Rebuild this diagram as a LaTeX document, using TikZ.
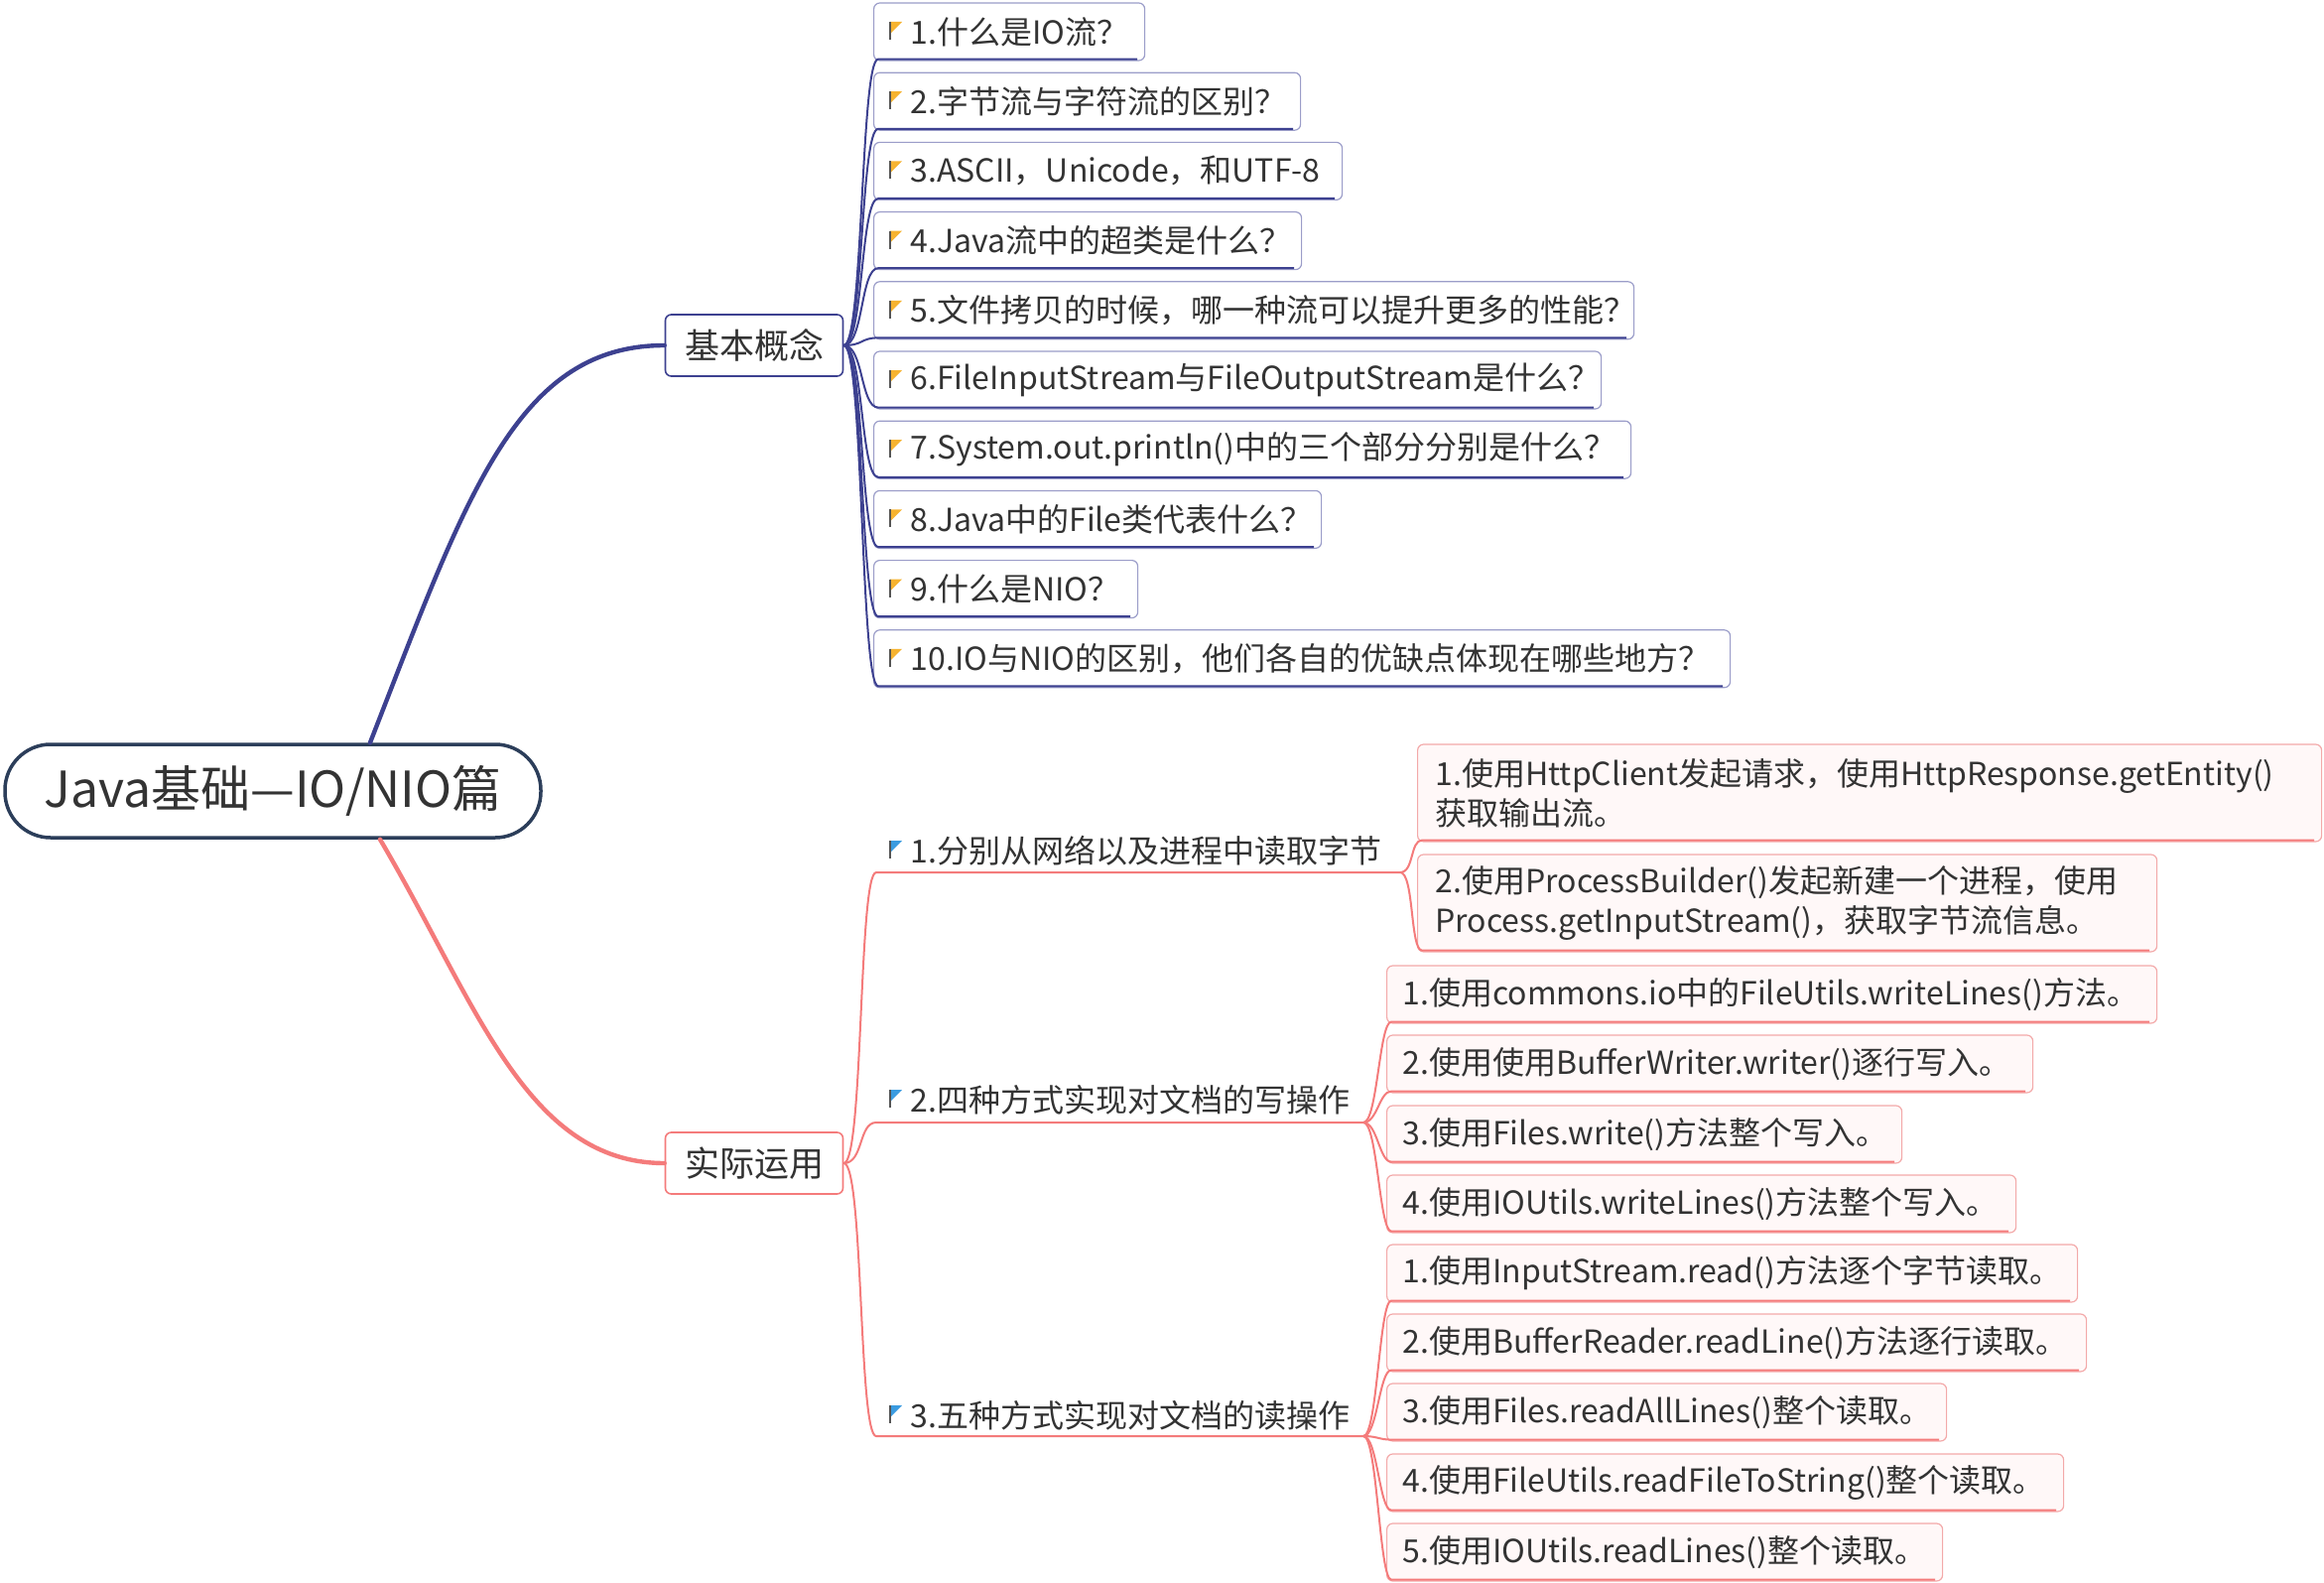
\documentclass[tikz,border=0pt]{standalone}
\usepackage{fontspec}
\setmainfont{Noto Sans CJK SC}
\usepackage{tikz}
\usetikzlibrary{positioning}
\hyphenpenalty=10000
\exhyphenpenalty=10000

\definecolor{rootline}{HTML}{2C3E5A}
\definecolor{navy}{HTML}{3D4190}
\definecolor{lavender}{HTML}{9B9DC9}
\definecolor{salmon}{HTML}{F47B7B}
\definecolor{pinkline}{HTML}{F3A9A9}
\definecolor{pinkfill}{HTML}{FFF8F8}
\definecolor{txt}{HTML}{333333}
\definecolor{flagor}{HTML}{F6B330}
\definecolor{flagbl}{HTML}{3A9BE0}
\definecolor{pole}{HTML}{555555}

\tikzset{
  root/.style={draw=rootline,line width=1.75pt,rounded corners=23pt,minimum width=270pt,minimum height=47pt,
    font=\fontsize{25pt}{29pt}\selectfont,text=txt},
  topic/.style={line width=0.8pt,rounded corners=3pt,fill=white,minimum width=89.5pt,minimum height=31pt,
    font=\fontsize{17.5pt}{21pt}\selectfont,text=txt},
  qbox/.style={draw=lavender,line width=0.6pt,rounded corners=3pt,fill=white,anchor=west,minimum height=29pt,
    inner xsep=7.5pt,align=left,font=\fontsize{16pt}{20pt}\selectfont,text=txt},
  abox/.style={draw=pinkline,line width=0.6pt,rounded corners=3pt,fill=pinkfill,anchor=west,minimum height=29pt,
    inner xsep=8pt,align=left,font=\fontsize{16pt}{20pt}\selectfont,text=txt},
  sub/.style={anchor=west,inner xsep=7.5pt,font=\fontsize{16pt}{20pt}\selectfont,text=txt},
  navyline/.style={draw=navy,line width=1pt},
  pinkbranch/.style={draw=salmon,line width=1pt}
}

\begin{document}
\begin{tikzpicture}[x=0.5pt,y=-0.5pt]
\path[fill=white,use as bounding box](0,0)rectangle(2342,1595);

% root and main topics
\node[root] (root) at (275,797) {Java基础—IO/NIO篇};
\node[topic,draw=navy] (basic) at (760,348) {基本概念};
\node[topic,draw=salmon] (real) at (760,1172) {实际运用};
\draw[draw=navy,line width=2.2pt,line cap=round]([xshift=49pt]root.north)
  .. controls (470,500) and (520,348) .. (basic.west);
\draw[draw=salmon,line width=2.2pt,line cap=round]([xshift=54pt]root.south)
  .. controls (480,1010) and (530,1172) .. (real.west);

% questions
\foreach \i/\w/\t in {
  1/273/{1.什么是IO流？},
  2/430/{2.字节流与字符流的区别？},
  3/472/{3.ASCII，Unicode，和UTF-8},
  4/431/{4.Java流中的超类是什么？},
  5/766/{5.文件拷贝的时候，哪一种流可以提升更多的性能？},
  6/733/{6.FileInputStream与FileOutputStream是什么？},
  7/763/{7.System.out.println()中的三个部分分别是什么？},
  8/451/{8.Java中的File类代表什么？},
  9/266/{9.什么是NIO？},
  10/863/{10.IO与NIO的区别，他们各自的优缺点体现在哪些地方？}}{
  \pgfmathsetmacro\yy{32+70.2*(\i-1)}
  \pgfmathsetmacro\tw{(\w-30)/2}
  \node[qbox,text width=\tw pt] (q\i) at (880,\yy) {\hspace*{11pt}\mbox{\t}};
  \fill[flagor]([xshift=8.5pt,yshift=5pt]q\i.west)--++(6pt,0pt)--++(-6pt,-6pt)--cycle;
  \draw[pole,line width=0.7pt]([xshift=8.5pt,yshift=5pt]q\i.west)--++(0pt,-9pt);
  \draw[navyline](basic.east) .. controls +(20,0) and +(-18,0) .. ([xshift=2.5pt,yshift=1pt]q\i.south west)
    --([xshift=-4pt,yshift=1pt]q\i.south east);
}

% practice
\node[sub] (s1) at (880,857) {\hspace*{11pt}1.分别从网络以及进程中读取字节};
\node[sub] (s2) at (880,1108) {\hspace*{11pt}2.四种方式实现对文档的写操作};
\node[sub] (s3) at (880,1426) {\hspace*{11pt}3.五种方式实现对文档的读操作};
\coordinate (s1l) at (883,879);
\coordinate (s1r) at (1411,879);
\coordinate (s2l) at (883,1131);
\coordinate (s2r) at (1374,1131);
\coordinate (s3l) at (883,1447);
\coordinate (s3r) at (1374,1447);
\foreach \s in {s1,s2,s3}{
  \fill[flagbl]([xshift=8.5pt,yshift=5pt]\s.west)--++(6pt,0pt)--++(-6pt,-6pt)--cycle;
  \draw[pole,line width=0.7pt]([xshift=8.5pt,yshift=5pt]\s.west)--++(0pt,-9pt);
  \draw[pinkbranch](real.east) .. controls +(20,0) and +(-18,0) .. (\s l)--(\s r);
}

\node[abox,inner xsep=9pt,text width=437.5pt,minimum height=49pt] (n1) at (1428,799)
  {1.使用HttpClient发起请求，使用HttpResponse.getEntity()\\获取输出流。};
\node[abox,inner xsep=9pt,text width=354.5pt,minimum height=49pt] (n2) at (1428,910)
  {2.使用ProcessBuilder()发起新建一个进程，使用\\Process.getInputStream()，获取字节流信息。};
\foreach \n in {n1,n2}
  \draw[pinkbranch](s1r) .. controls +(14,0) and +(-12,0) .. ([xshift=2.5pt,yshift=1pt]\n.south west)
    --([xshift=-4pt,yshift=1pt]\n.south east);

\foreach \i/\yy/\w/\t in {
  1/1002/776/{1.使用commons.io中的FileUtils.writeLines()方法。},
  2/1072/651/{2.使用使用BufferWriter.writer()逐行写入。},
  3/1143/519/{3.使用Files.write()方法整个写入。},
  4/1213/634/{4.使用IOUtils.writeLines()方法整个写入。}}{
  \pgfmathsetmacro\tw{(\w-32)/2}
  \node[abox,text width=\tw pt] (w\i) at (1397,\yy) {\mbox{\t}};
  \draw[pinkbranch](s2r) .. controls +(14,0) and +(-12,0) .. ([xshift=2.5pt,yshift=1pt]w\i.south west)
    --([xshift=-4pt,yshift=1pt]w\i.south east);
}

\foreach \i/\yy/\w/\t in {
  1/1283/696/{1.使用InputStream.read()方法逐个字节读取。},
  2/1353/705/{2.使用BufferReader.readLine()方法逐行读取。},
  3/1423/564/{3.使用Files.readAllLines()整个读取。},
  4/1494/682/{4.使用FileUtils.readFileToString()整个读取。},
  5/1564/560/{5.使用IOUtils.readLines()整个读取。}}{
  \pgfmathsetmacro\tw{(\w-32)/2}
  \node[abox,text width=\tw pt] (r\i) at (1397,\yy) {\mbox{\t}};
  \draw[pinkbranch](s3r) .. controls +(14,0) and +(-12,0) .. ([xshift=2.5pt,yshift=1pt]r\i.south west)
    --([xshift=-4pt,yshift=1pt]r\i.south east);
}
\end{tikzpicture}
\end{document}
